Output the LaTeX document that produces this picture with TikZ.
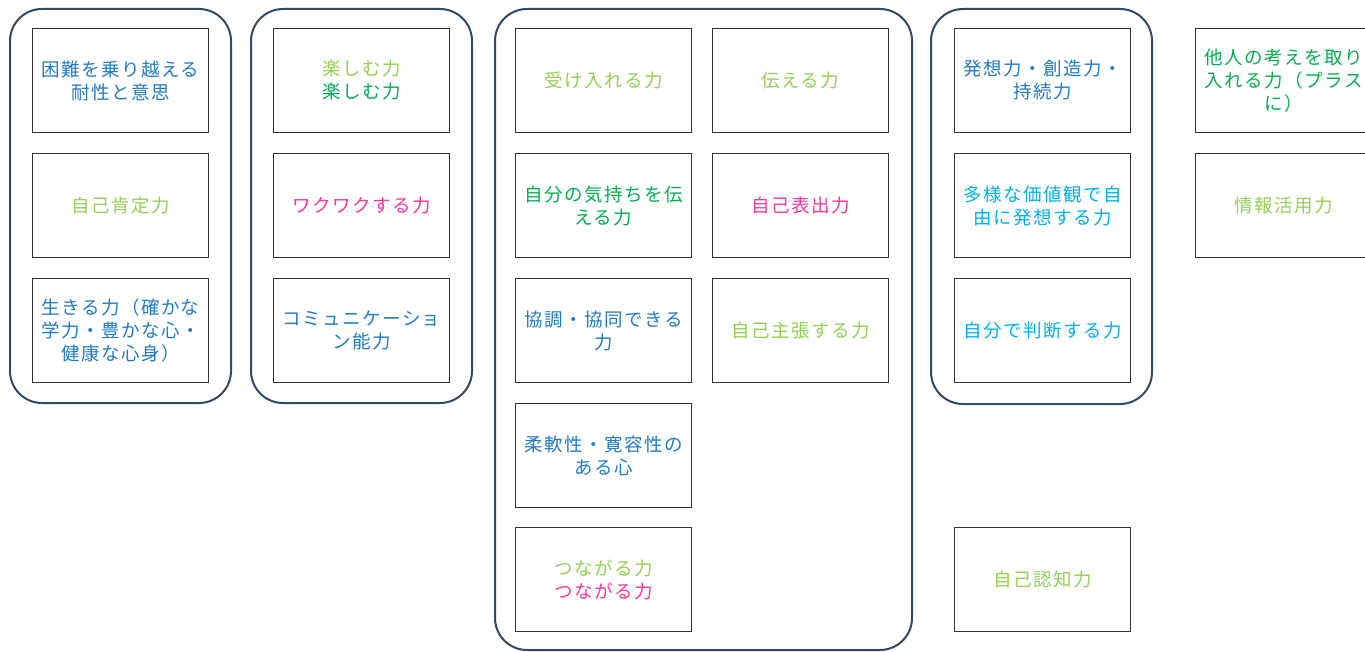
\documentclass[tikz,border=0pt]{standalone}
\usepackage{fontspec}
\newfontfamily\jp[LetterSpace=8]{Noto Sans CJK JP}
\definecolor{cBlue}{HTML}{1F7ACB}
\definecolor{cLG}{HTML}{92D050}
\definecolor{cG}{HTML}{00B050}
\definecolor{cPink}{HTML}{FF3399}
\definecolor{cCyan}{HTML}{00B0F0}
\definecolor{cFrame}{HTML}{2E4A66}
\definecolor{cBox}{HTML}{333333}
\begin{document}
\begin{tikzpicture}[x=1pt,y=-1pt,
  grp/.style={draw=cFrame,line width=2pt,rounded corners=32pt},
  cell/.style={draw=cBox,line width=1pt,minimum width=176pt,minimum height=104pt,
    inner sep=0pt,anchor=north west,align=center,
    font={\jp\fontsize{18.5pt}{23pt}\selectfont}}]
\useasboundingbox (0,0) rectangle (1365,652);
% groups
\draw[grp] (10,9) rectangle (231,403);
\draw[grp] (251,9) rectangle (472,403);
\draw[grp] (495,9) rectangle (912,650);
\draw[grp] (931,9) rectangle (1152,404);
% column 1
\node[cell,text=cBlue] (a1) at (32,28) {困難を乗り越える\\耐性と意思};
\node[cell,text=cLG] (a2) at (32,153) {自己肯定力};
\node[cell,text=cBlue] (a3) at (32,278) {生きる力（確かな\\学力・豊かな心・\\健康な心身）};
% column 2
\node[cell] (b1) at (273,28) {\textcolor{cLG}{楽しむ力}\\\textcolor{cG}{楽しむ力}};
\node[cell,text=cPink] (b2) at (273,153) {ワクワクする力};
\node[cell,text=cBlue] (b3) at (273,278) {コミュニケーショ\\ン能力};
% column 3
\node[cell,text=cLG] (c1) at (515,28) {受け入れる力};
\node[cell,text=cG] (c2) at (515,153) {自分の気持ちを伝\\える力};
\node[cell,text=cBlue] (c3) at (515,278) {協調・協同できる\\力};
\node[cell,text=cBlue] (c4) at (515,403) {柔軟性・寛容性の\\ある心};
\node[cell] (c5) at (515,527) {\textcolor{cLG}{つながる力}\\\textcolor{cPink}{つながる力}};
% column 4
\node[cell,text=cLG] (d1) at (712,28) {伝える力};
\node[cell,text=cPink] (d2) at (712,153) {自己表出力};
\node[cell,text=cLG] (d3) at (712,278) {自己主張する力};
% column 5
\node[cell,text=cBlue] (e1) at (954,28) {発想力・創造力・\\持続力};
\node[cell,text=cCyan] (e2) at (954,153) {多様な価値観で自\\由に発想する力};
\node[cell,text=cCyan] (e3) at (954,278) {自分で判断する力};
\node[cell,text=cLG] (e4) at (954,527) {自己認知力};
% column 6
\node[cell,text=cG] (f1) at (1195,28) {他人の考えを取り\\入れる力（プラス\\に）};
\node[cell,text=cLG] (f2) at (1195,153) {情報活用力};
\end{tikzpicture}
\end{document}
